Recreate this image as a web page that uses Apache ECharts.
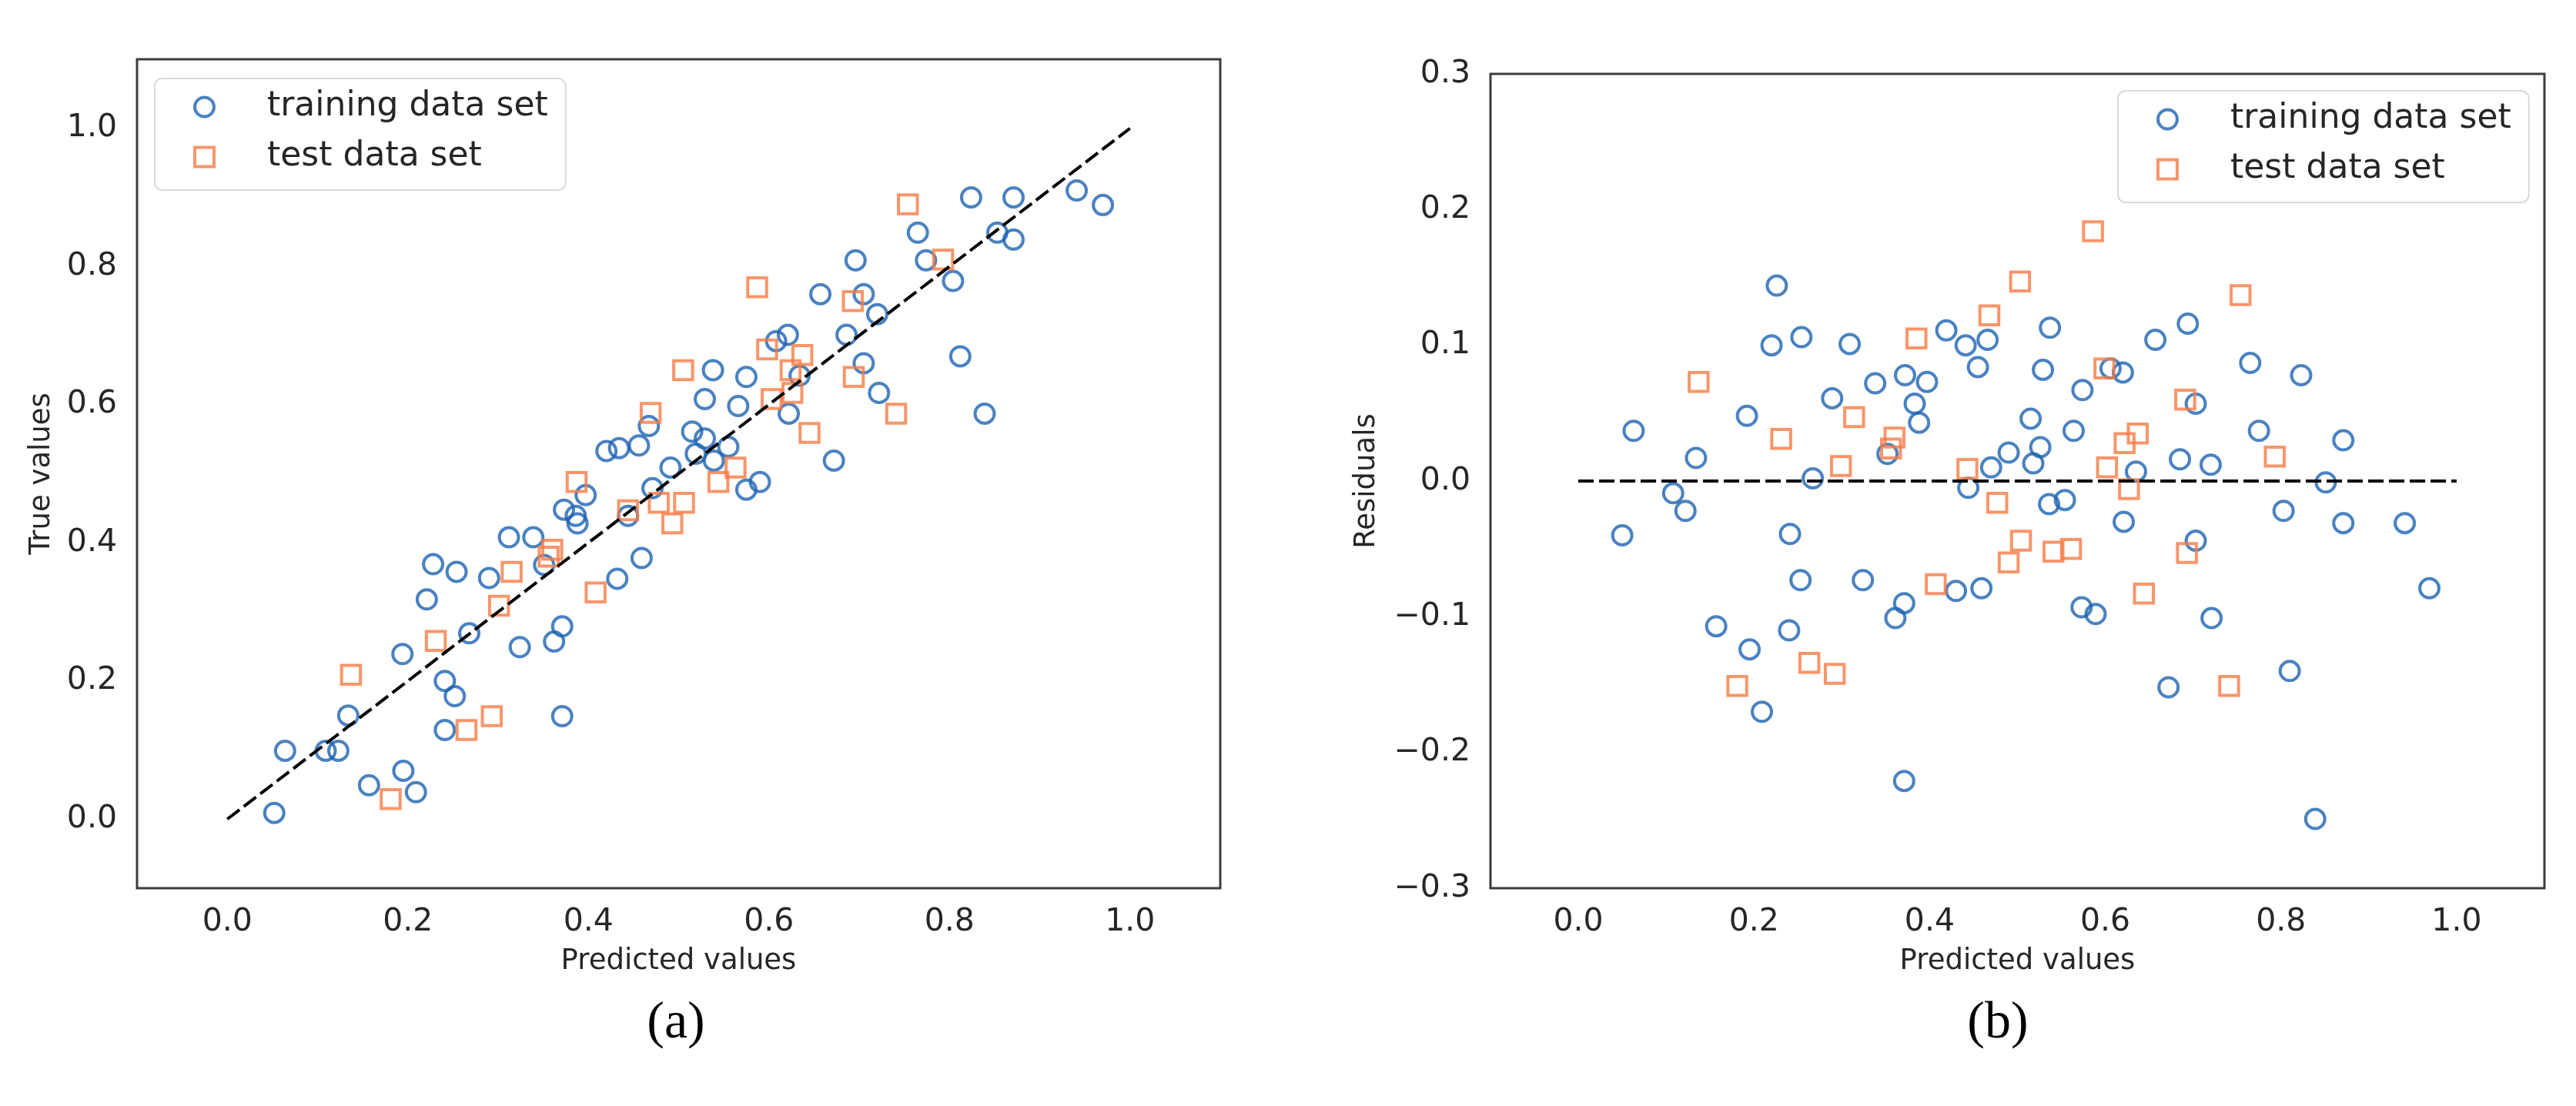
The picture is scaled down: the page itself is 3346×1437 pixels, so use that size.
<!DOCTYPE html>
<html>
<head>
<meta charset="utf-8">
<title>Predicted vs true values and residuals</title>
<script src="https://cdn.jsdelivr.net/npm/echarts@6/dist/echarts.min.js"></script>
<style>
  html, body { margin: 0; padding: 0; background: #fff; }
  #chart { width: 3346px; height: 1437px; }
</style>
</head>
<body>
<div id="chart"></div>
<script>
// (a) predicted vs true values
const trainPredA = [0.052, 0.064, 0.109, 0.123, 0.134, 0.157, 0.195, 0.209, 0.194, 0.221, 0.228, 0.254, 0.241, 0.252, 0.241, 0.268,
  0.290, 0.312, 0.339, 0.324, 0.351, 0.362, 0.371, 0.371, 0.373, 0.386, 0.388, 0.397, 0.432, 0.459, 0.444, 0.471, 0.491, 0.420,
  0.434, 0.456, 0.467, 0.824, 0.871, 0.941, 0.970, 0.765, 0.853, 0.871, 0.696, 0.774, 0.804, 0.657, 0.705, 0.720, 0.621, 0.608,
  0.686, 0.705, 0.812, 0.538, 0.575, 0.529, 0.566, 0.722, 0.622, 0.839, 0.634, 0.515, 0.529, 0.519, 0.555, 0.539, 0.672, 0.575, 0.590]
const trainTrueA = [0.009, 0.099, 0.099, 0.099, 0.150, 0.049, 0.070, 0.039, 0.239, 0.318, 0.369, 0.358, 0.200, 0.178, 0.129, 0.269,
  0.349, 0.408, 0.408, 0.249, 0.368, 0.257, 0.279, 0.149, 0.448, 0.439, 0.428, 0.469, 0.348, 0.378, 0.439, 0.479, 0.509, 0.533,
  0.537, 0.541, 0.569, 0.900, 0.900, 0.910, 0.889, 0.849, 0.849, 0.839, 0.809, 0.809, 0.779, 0.760, 0.760, 0.731, 0.701, 0.692,
  0.701, 0.660, 0.670, 0.650, 0.640, 0.608, 0.598, 0.617, 0.587, 0.587, 0.642, 0.561, 0.551, 0.529, 0.539, 0.519, 0.519, 0.477, 0.488]
const testPredA = [0.137, 0.181, 0.231, 0.265, 0.293, 0.301, 0.315, 0.360, 0.356, 0.387, 0.408, 0.444, 0.478, 0.493, 0.506, 0.469,
  0.544, 0.563, 0.754, 0.793, 0.587, 0.693, 0.598, 0.637, 0.624, 0.626, 0.603, 0.694, 0.741, 0.505, 0.645]
const testTrueA = [0.209, 0.029, 0.258, 0.129, 0.149, 0.309, 0.358, 0.390, 0.380, 0.488, 0.328, 0.447, 0.458, 0.428, 0.458, 0.588,
  0.488, 0.509, 0.890, 0.810, 0.770, 0.750, 0.680, 0.672, 0.650, 0.617, 0.608, 0.640, 0.587, 0.650, 0.559]

// (b) predicted values vs residuals
const trainPredB = [0.050, 0.063, 0.108, 0.122, 0.134, 0.157, 0.195, 0.209, 0.192, 0.220, 0.226, 0.254, 0.241, 0.253, 0.240, 0.267,
  0.289, 0.309, 0.338, 0.324, 0.352, 0.361, 0.371, 0.371, 0.372, 0.383, 0.388, 0.397, 0.430, 0.459, 0.444, 0.470, 0.490, 0.419,
  0.441, 0.455, 0.466, 0.823, 0.871, 0.941, 0.969, 0.765, 0.851, 0.871, 0.694, 0.775, 0.803, 0.657, 0.703, 0.720, 0.620, 0.606,
  0.685, 0.703, 0.810, 0.537, 0.574, 0.529, 0.564, 0.721, 0.621, 0.839, 0.635, 0.515, 0.526, 0.518, 0.554, 0.536, 0.672, 0.573, 0.589]
const trainResB = [-0.040, 0.037, -0.009, -0.022, 0.017, -0.107, -0.124, -0.170, 0.048, 0.100, 0.144, 0.106, -0.039, -0.073, -0.110, 0.002,
  0.061, 0.101, 0.072, -0.073, 0.020, -0.101, -0.090, -0.221, 0.078, 0.057, 0.043, 0.073, -0.081, -0.079, -0.005, 0.010, 0.021, 0.111,
  0.100, 0.084, 0.104, 0.078, 0.030, -0.031, -0.079, 0.087, -0.001, -0.031, 0.116, 0.037, -0.022, 0.104, 0.057, 0.012, 0.080, 0.083,
  0.016, -0.044, -0.140, 0.113, 0.067, 0.082, 0.037, -0.101, -0.030, -0.249, 0.007, 0.046, 0.025, 0.013, -0.014, -0.017, -0.152, -0.093, -0.098]
const testPredB = [0.137, 0.181, 0.231, 0.263, 0.292, 0.299, 0.314, 0.360, 0.356, 0.385, 0.407, 0.443, 0.477, 0.490, 0.504, 0.468,
  0.541, 0.561, 0.754, 0.793, 0.586, 0.691, 0.599, 0.637, 0.622, 0.627, 0.602, 0.693, 0.741, 0.503, 0.644]
const testResB = [0.073, -0.151, 0.031, -0.134, -0.142, 0.011, 0.047, 0.032, 0.024, 0.105, -0.076, 0.009, -0.016, -0.060, -0.044, 0.122,
  -0.052, -0.050, 0.137, 0.018, 0.184, 0.060, 0.083, 0.035, 0.028, -0.006, 0.010, -0.053, -0.151, 0.147, -0.083]

// reference lines and tick labels
const diagLine = [[0, 0], [1, 1]]
const zeroLine = [[0, 0], [1, 0]]
const xTicks = [0.0, 0.2, 0.4, 0.6, 0.8, 1.0]
const yTicksA = [0.0, 0.2, 0.4, 0.6, 0.8, 1.0]
const yTicksB = [-0.3, -0.2, -0.1, 0.0, 0.1, 0.2, 0.3]

const BLUE = '#1d63b0'
const ORANGE = '#f77a45'
const TEXT = '#262626'
const FONT = 'DejaVu Sans'

const zip = (xs, ys) => xs.map((x, i) => [x, ys[i]])

// only print the listed ticks, matplotlib style minus sign
const tickFormatter = ticks => v => {
  const t = ticks.find(t => Math.abs(t - v) < 1e-6)
  if (t === undefined) return ''
  const s = Math.abs(t).toFixed(1)
  return t < -1e-9 ? '\u2212' + s : s
}

function valueAxis(gridIndex, min, max, ticks, name, nameGap, margin) {
  return {
    type: 'value',
    gridIndex,
    min,
    max,
    interval: 0.1,
    axisLine: { show: false },
    axisTick: { show: false },
    splitLine: { show: false },
    axisLabel: { color: TEXT, fontFamily: FONT, fontSize: 41, margin, formatter: tickFormatter(ticks) },
    name,
    nameGap,
    nameLocation: 'middle',
    nameTextStyle: { color: TEXT, fontFamily: FONT, fontSize: 37 },
  }
}

const hollow = color => ({ color: 'rgba(0,0,0,0)', borderColor: color, borderWidth: 4 })

function legendAt(pos) {
  return Object.assign({
    orient: 'vertical',
    data: [
      { name: 'training data set', icon: 'circle', itemStyle: hollow(BLUE) },
      { name: 'test data set', icon: 'rect', itemStyle: hollow(ORANGE) },
    ],
    itemWidth: 25,
    itemHeight: 25,
    itemGap: 21,
    padding: [15, 23, 21, 50],
    backgroundColor: '#fff',
    borderColor: '#dadada',
    borderWidth: 2,
    borderRadius: 10,
    selectedMode: false,
    textStyle: { color: TEXT, fontFamily: FONT, fontSize: 44, padding: [0, 0, 0, 64] },
  }, pos)
}

function scatter(name, symbol, size, color, axis, data) {
  return {
    name,
    type: 'scatter',
    xAxisIndex: axis,
    yAxisIndex: axis,
    symbol,
    symbolSize: size,
    itemStyle: hollow(color),
    emphasis: { disabled: true },
    data,
  }
}

function refLine(axis, data) {
  return {
    type: 'line',
    xAxisIndex: axis,
    yAxisIndex: axis,
    data,
    symbol: 'none',
    silent: true,
    z: 5,
    lineStyle: { color: '#000', width: 4, type: [20, 7] },
  }
}

const chart = echarts.init(document.getElementById('chart'))
chart.setOption({
  backgroundColor: '#fff',
  animation: false,
  grid: [
    { left: 178, top: 77, width: 1407, height: 1077, show: true, borderColor: '#3c3c3c', borderWidth: 3, outerBoundsMode: 'none' },
    { left: 1936, top: 96, width: 1369, height: 1058, show: true, borderColor: '#3c3c3c', borderWidth: 3, outerBoundsMode: 'none' },
  ],
  xAxis: [
    valueAxis(0, -0.1, 1.1, xTicks, 'Predicted values', 77, 24),
    valueAxis(1, -0.1, 1.1, xTicks, 'Predicted values', 77, 24),
  ],
  yAxis: [
    valueAxis(0, -0.1, 1.1, yTicksA, 'True values', 105, 26),
    valueAxis(1, -0.3, 0.3, yTicksB, 'Residuals', 142, 26),
  ],
  legend: [
    legendAt({ left: 201, top: 102 }),
    legendAt({ left: 2751, top: 118 }),
  ],
  graphic: [
    { type: 'text', x: 878, y: 1330, style: { text: '(a)', fill: '#000', fontSize: 68, fontFamily: 'Liberation Serif', align: 'center', verticalAlign: 'middle' } },
    { type: 'text', x: 2595, y: 1330, style: { text: '(b)', fill: '#000', fontSize: 68, fontFamily: 'Liberation Serif', align: 'center', verticalAlign: 'middle' } },
  ],
  series: [
    scatter('training data set', 'circle', 25, BLUE, 0, zip(trainPredA, trainTrueA)),
    scatter('test data set', 'rect', 24.5, ORANGE, 0, zip(testPredA, testTrueA)),
    refLine(0, diagLine),
    scatter('training data set', 'circle', 25, BLUE, 1, zip(trainPredB, trainResB)),
    scatter('test data set', 'rect', 24.5, ORANGE, 1, zip(testPredB, testResB)),
    refLine(1, zeroLine),
  ],
})
</script>
</body>
</html>
